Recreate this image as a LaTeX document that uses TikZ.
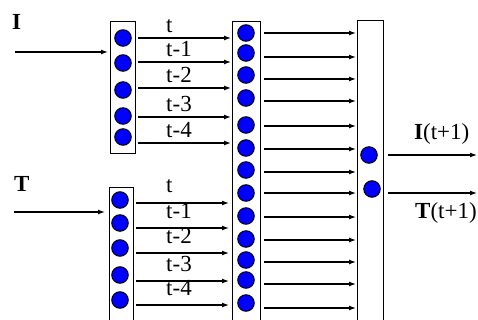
\documentclass[tikz,border=0pt]{standalone}
\usepackage{fontspec}
\setmainfont{Liberation Serif}
\usetikzlibrary{arrows.meta,positioning}

\begin{document}
\begin{tikzpicture}[x=1pt,y=-1pt,>={Latex[length=7pt,width=5pt]},
  box/.style={draw,line width=1.4pt,inner sep=0pt,anchor=north west},
  unit/.style={circle,draw,line width=1pt,fill=blue,minimum size=16.5pt,inner sep=0pt},
  link/.style={->,line width=1.3pt},
  lab/.style={anchor=base west,inner sep=0pt,font=\fontsize{23}{25}\selectfont}]
  \useasboundingbox (0,0) rectangle (478,320);
  \clip (0,0) rectangle (478,320);

  % layers
  \node[box,minimum width=25pt,minimum height=132pt] (boxI) at (110,21) {};
  \node[box,minimum width=24pt,minimum height=140pt] (boxT) at (109,187) {};
  \node[box,minimum width=28pt,minimum height=310pt] (boxM) at (232,21) {};
  \node[box,minimum width=26pt,minimum height=310pt] (boxO) at (357,20) {};

  % units
  \foreach \y [count=\i] in {38,63,90,116,137}
    \node[unit] (uI\i) at (123,\y) {};
  \foreach \y [count=\i] in {200,223,248,275,300}
    \node[unit] (uT\i) at (120,\y) {};
  \foreach \y [count=\i] in {33,53,75,98,125,148,170,193,216,239,260,280,303}
    \node[unit] (uM\i) at (246,\y) {};
  \node[unit] (uO1) at (369,155) {};
  \node[unit] (uO2) at (372,189) {};

  % inputs
  \node[lab] (labI) at (12,30) {\textbf{I}};
  \node[lab] (labT) at (14,192) {\textbf{T}};
  \coordinate (inI) at (15,52);
  \coordinate (inT) at (14,212);
  \draw[link,shorten >=2pt] (inI) -- (inI -| boxI.west);
  \draw[link,shorten >=4pt] (inT) -- (inT -| boxT.west);

  % delay lines
  \foreach \y/\t [count=\i] in {38/t,62/t-1,88/t-2,117/t-3,143/t-4} {
    \draw[link,shorten <=2pt,shorten >=1pt] (boxI.east |- 0,\y) -- (boxM.west |- 0,\y);
    \node[lab] (dI\i) at (166,\y-5) {\t};
  }
  \foreach \y/\t [count=\i] in {203/t,228/t-1,253/t-2,281/t-3,305/t-4} {
    \draw[link,shorten <=2pt,shorten >=3pt] (boxT.east |- 0,\y) -- (boxM.west |- 0,\y);
    \node[lab] (dT\i) at (166,\y-10) {\t};
  }

  % hidden to output
  \foreach \y in {33,57,79,101,126,149,172,193,217,240,262,284,308}
    \draw[link,shorten <=3pt,shorten >=1pt] (boxM.east |- 0,\y) -- (boxO.west |- 0,\y);

  % outputs
  \coordinate (outI) at (477,155);
  \coordinate (outT) at (477,193);
  \draw[link,shorten <=4pt] (outI -| boxO.east) -- (outI);
  \draw[link,shorten <=4pt] (outT -| boxO.east) -- (outT);
  \node[lab] (labIout) at (414,140) {\textbf{I}(t+1)};
  \node[lab] (labTout) at (415,218) {\textbf{T}(t+1)};
\end{tikzpicture}
\end{document}
